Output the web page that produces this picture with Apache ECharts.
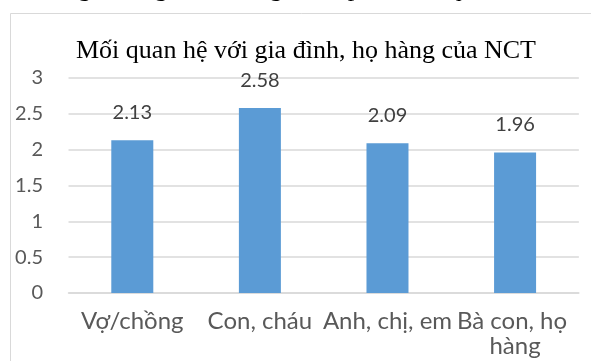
<!DOCTYPE html>
<html>
<head>
<meta charset="utf-8">
<script src="https://cdn.jsdelivr.net/npm/echarts@6/dist/echarts.min.js"></script>
<style>
html,body{margin:0;padding:0;background:#fff;}
#c{width:591px;height:361px;}
</style>
</head>
<body>
<div id="c"></div>
<script>
const titleText = 'Mối quan hệ với gia đình, họ hàng của NCT';
const topLine = 'Sự vọng đánh giá, họ hàng được phản ánh qua của NCT.';
const categories = ['Vợ/chồng', 'Con, cháu', 'Anh, chị, em', 'Bà con, họ hàng'];
const values = [2.13, 2.58, 2.09, 1.96];
const yMin = 0, yMax = 3, yStep = 0.5;

const chart = echarts.init(document.getElementById('c'), null, {renderer: 'canvas'});
chart.setOption({
  animation: false,
  backgroundColor: '#ffffff',
  title: {
    text: titleText,
    left: 301, top: 33,
    textAlign: 'center',
    textStyle: {fontFamily: 'Liberation Serif', fontSize: 26, fontWeight: 'normal', color: '#000000'}
  },
  graphic: [
    {type: 'rect', silent: true, z: -1,
     shape: {x: 10.5, y: 13.5, width: 700, height: 500},
     style: {fill: 'none', stroke: '#d9d9d9', lineWidth: 1}},
    {type: 'text', silent: true,
     style: {text: topLine, x: 4, y: 2, verticalAlign: 'bottom',
             font: '26px "Liberation Serif"', fill: '#000000'}}
  ],
  grid: {left: 68.5, top: 78, width: 535, height: 215, containLabel: false},
  xAxis: {
    type: 'category',
    data: categories,
    axisLine: {show: true, lineStyle: {color: '#d9d9d9', width: 1.5}},
    axisTick: {show: false},
    axisLabel: {
      interval: 0, margin: 16, color: '#595959',
      fontFamily: 'Lato', fontSize: 24, lineHeight: 25,
      width: 152, overflow: 'break'
    }
  },
  yAxis: {
    type: 'value', min: yMin, max: yMax, interval: yStep,
    axisLine: {show: false}, axisTick: {show: false},
    splitLine: {lineStyle: {color: '#d9d9d9', width: 1.5}},
    axisLabel: {margin: 25.5, color: '#595959', fontFamily: 'Lato', fontSize: 20}
  },
  series: [{
    type: 'bar',
    data: values,
    barWidth: 42,
    itemStyle: {color: '#5b9bd5'},
    label: {
      show: true, position: 'top', distance: 18,
      color: '#404040', fontFamily: 'Lato', fontSize: 20,
      formatter: p => p.value.toFixed(2)
    }
  }]
});
</script>
</body>
</html>
